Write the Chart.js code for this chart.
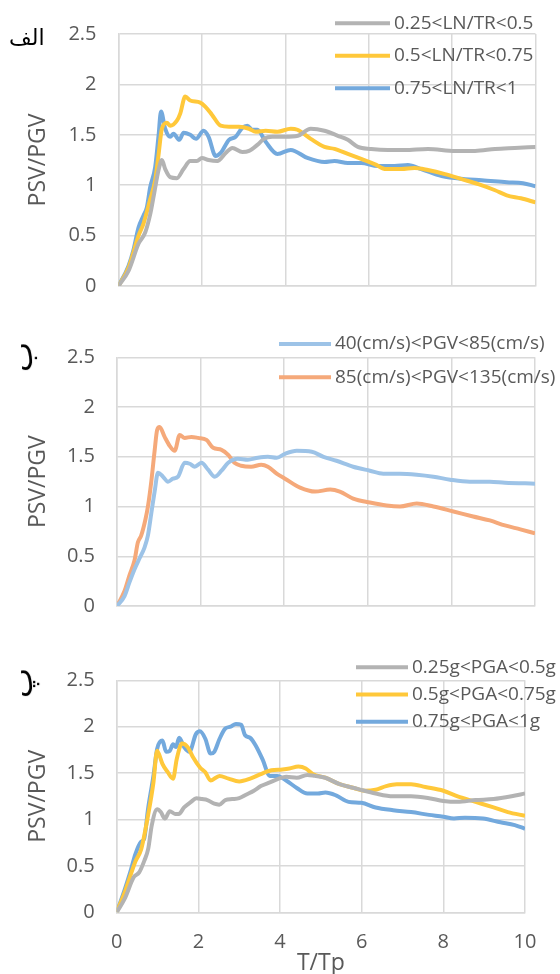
<!DOCTYPE html>
<html>
<head>
<meta charset="utf-8">
<script src="https://cdn.jsdelivr.net/npm/chart.js@4.4.0/dist/chart.umd.min.js"></script>
<style>
  html, body { margin: 0; padding: 0; background: #fff; overflow: hidden; }
  #wrap { position: relative; width: 560px; height: 974px; }
  .panel { position: absolute; left: 0; width: 560px; }
  .tag { position: absolute; font-family: "DejaVu Sans", sans-serif; color: #000; white-space: nowrap; line-height: 30px; }
</style>
</head>
<body>
<div id="wrap">
  <div class="panel" style="top:0;height:320px"><canvas id="c1" width="560" height="320"></canvas></div>
  <div class="panel" style="top:320px;height:320px"><canvas id="c2" width="560" height="320"></canvas></div>
  <div class="panel" style="top:640px;height:350px"><canvas id="c3" width="560" height="350"></canvas></div>
  <div class="tag" dir="rtl" style="left:9px;top:23px;font-size:22px">الف</div>
  <div class="tag" dir="rtl" style="left:6px;top:342px;font-size:32px;transform:rotate(-90deg)">ب</div>
  <div class="tag" dir="rtl" style="left:6px;top:668px;font-size:32px;transform:rotate(-90deg)">پ</div>
</div>
<script>
// axis ticks
const xTicks = [0, 2, 4, 6, 8, 10];
const yTicks = [0, 0.5, 1, 1.5, 2, 2.5];

// panel الف : LN/TR groups
const lnLabels = ['0.25<LN/TR<0.5', '0.5<LN/TR<0.75', '0.75<LN/TR<1'];
const lnT1 = [0, 0.24, 0.48, 0.64, 0.76, 0.86, 0.96, 1.04, 1.12, 1.24, 1.4, 1.56, 1.72, 1.88, 2.0, 2.16, 2.37, 2.57, 2.73, 2.97, 3.13, 3.33, 3.49, 3.69, 4.0, 4.3, 4.61, 4.94, 5.26, 5.5, 5.74, 6.06, 6.46, 6.86, 7.42, 8.07, 8.55, 9.03, 9.5, 10];
const lnV1 = [0, 0.15, 0.42, 0.53, 0.71, 0.93, 1.15, 1.25, 1.16, 1.08, 1.07, 1.16, 1.24, 1.24, 1.27, 1.25, 1.24, 1.32, 1.37, 1.33, 1.34, 1.40, 1.46, 1.48, 1.48, 1.49, 1.56, 1.54, 1.49, 1.45, 1.38, 1.36, 1.35, 1.35, 1.36, 1.34, 1.34, 1.36, 1.37, 1.38];
const lnT2 = [0, 0.24, 0.48, 0.6, 0.76, 0.88, 0.96, 1.04, 1.16, 1.24, 1.4, 1.48, 1.6, 1.72, 1.96, 2.08, 2.24, 2.45, 2.65, 2.89, 3.13, 3.29, 3.53, 3.81, 4.13, 4.29, 4.61, 4.94, 5.18, 5.5, 5.82, 6.14, 6.42, 6.78, 7.1, 7.42, 7.83, 8.23, 8.63, 9.03, 9.31, 9.65, 10];
const lnV2 = [0, 0.18, 0.5, 0.62, 0.86, 1.05, 1.3, 1.56, 1.62, 1.59, 1.64, 1.71, 1.88, 1.84, 1.82, 1.78, 1.70, 1.59, 1.58, 1.58, 1.56, 1.53, 1.54, 1.53, 1.56, 1.55, 1.46, 1.38, 1.36, 1.31, 1.26, 1.21, 1.16, 1.16, 1.17, 1.15, 1.11, 1.06, 1.01, 0.95, 0.90, 0.87, 0.83];
const lnT3 = [0, 0.24, 0.36, 0.48, 0.6, 0.68, 0.76, 0.88, 0.96, 1.02, 1.12, 1.24, 1.32, 1.46, 1.56, 1.72, 1.86, 2.04, 2.16, 2.33, 2.45, 2.65, 2.81, 2.97, 3.09, 3.21, 3.33, 3.53, 3.81, 4.13, 4.53, 4.94, 5.18, 5.5, 5.82, 6.22, 6.62, 6.94, 7.26, 7.75, 8.31, 8.71, 9.31, 9.7, 10];
const lnV3 = [0, 0.20, 0.36, 0.58, 0.70, 0.78, 0.98, 1.18, 1.49, 1.73, 1.56, 1.48, 1.51, 1.45, 1.52, 1.50, 1.46, 1.54, 1.48, 1.29, 1.32, 1.45, 1.48, 1.57, 1.59, 1.55, 1.55, 1.43, 1.31, 1.35, 1.27, 1.23, 1.24, 1.22, 1.22, 1.19, 1.19, 1.20, 1.16, 1.09, 1.06, 1.05, 1.03, 1.02, 0.99];

// panel ب : PGV groups
const pgvLabels = ['40(cm/s)<PGV<85(cm/s)', '85(cm/s)<PGV<135(cm/s)'];
const pgvT1 = [0, 0.18, 0.3, 0.42, 0.54, 0.66, 0.74, 0.82, 0.9, 0.98, 1.1, 1.22, 1.34, 1.46, 1.62, 1.74, 1.86, 2.02, 2.18, 2.34, 2.5, 2.66, 2.89, 3.13, 3.37, 3.61, 3.82, 4.02, 4.3, 4.66, 4.94, 5.25, 5.65, 6.05, 6.37, 6.77, 7.17, 7.57, 7.97, 8.44, 8.92, 9.28, 10];
const pgvV1 = [0, 0.10, 0.24, 0.37, 0.48, 0.59, 0.71, 0.93, 1.15, 1.34, 1.30, 1.25, 1.28, 1.30, 1.44, 1.43, 1.40, 1.44, 1.37, 1.30, 1.36, 1.44, 1.48, 1.47, 1.49, 1.50, 1.49, 1.53, 1.56, 1.55, 1.50, 1.46, 1.40, 1.36, 1.33, 1.33, 1.32, 1.30, 1.27, 1.25, 1.25, 1.24, 1.23];
const pgvT2 = [0, 0.18, 0.3, 0.42, 0.5, 0.58, 0.68, 0.74, 0.82, 0.9, 0.96, 1.02, 1.14, 1.26, 1.38, 1.5, 1.62, 1.78, 1.94, 2.14, 2.3, 2.5, 2.66, 2.81, 2.97, 3.21, 3.45, 3.61, 3.82, 4.02, 4.38, 4.74, 5.1, 5.33, 5.65, 6.05, 6.45, 6.77, 7.17, 7.57, 8.05, 8.52, 8.92, 9.28, 9.65, 10];
const pgvV2 = [0, 0.15, 0.31, 0.46, 0.64, 0.71, 0.87, 1.0, 1.25, 1.56, 1.77, 1.80, 1.70, 1.61, 1.56, 1.72, 1.69, 1.70, 1.69, 1.67, 1.59, 1.57, 1.52, 1.44, 1.41, 1.40, 1.42, 1.40, 1.33, 1.28, 1.19, 1.15, 1.17, 1.15, 1.08, 1.04, 1.01, 1.00, 1.03, 1.00, 0.95, 0.90, 0.86, 0.81, 0.77, 0.73];

// panel پ : PGA groups
const pgaLabels = ['0.25g<PGA<0.5g', '0.5g<PGA<0.75g', '0.75g<PGA<1g'];
const pgaT1 = [0, 0.2, 0.42, 0.55, 0.68, 0.77, 0.86, 0.99, 1.08, 1.18, 1.3, 1.43, 1.52, 1.65, 1.82, 1.95, 2.09, 2.22, 2.39, 2.51, 2.66, 2.83, 3.0, 3.18, 3.36, 3.53, 3.75, 3.97, 4.15, 4.41, 4.67, 4.85, 5.11, 5.46, 5.9, 6.34, 6.77, 7.21, 7.65, 8.0, 8.35, 8.79, 9.23, 9.67, 10];
const pgaV1 = [0, 0.15, 0.38, 0.43, 0.56, 0.68, 0.94, 1.11, 1.08, 1.01, 1.09, 1.06, 1.06, 1.13, 1.19, 1.23, 1.22, 1.21, 1.17, 1.16, 1.21, 1.22, 1.23, 1.27, 1.31, 1.36, 1.40, 1.44, 1.46, 1.45, 1.48, 1.47, 1.45, 1.38, 1.33, 1.28, 1.25, 1.25, 1.23, 1.20, 1.19, 1.21, 1.22, 1.25, 1.28];
const pgaT2 = [0, 0.2, 0.46, 0.6, 0.77, 0.9, 0.99, 1.03, 1.12, 1.25, 1.38, 1.47, 1.6, 1.74, 1.87, 2.04, 2.17, 2.3, 2.52, 2.74, 3.0, 3.27, 3.53, 3.79, 4.06, 4.23, 4.45, 4.63, 4.8, 5.11, 5.46, 5.81, 6.07, 6.34, 6.6, 6.86, 7.21, 7.56, 8.0, 8.35, 8.79, 9.23, 9.58, 10];
const pgaV2 = [0, 0.22, 0.55, 0.68, 1.05, 1.4, 1.74, 1.71, 1.60, 1.51, 1.44, 1.65, 1.82, 1.78, 1.67, 1.56, 1.51, 1.42, 1.47, 1.44, 1.41, 1.44, 1.49, 1.53, 1.54, 1.55, 1.57, 1.55, 1.49, 1.45, 1.38, 1.34, 1.31, 1.32, 1.36, 1.38, 1.38, 1.35, 1.31, 1.25, 1.19, 1.13, 1.08, 1.04];
const pgaT3 = [0, 0.2, 0.33, 0.46, 0.6, 0.67, 0.77, 0.9, 0.99, 1.12, 1.21, 1.3, 1.38, 1.45, 1.53, 1.65, 1.78, 1.94, 2.04, 2.17, 2.3, 2.39, 2.52, 2.66, 2.79, 2.92, 3.05, 3.14, 3.27, 3.4, 3.58, 3.75, 3.93, 4.15, 4.41, 4.67, 4.93, 5.11, 5.37, 5.68, 5.99, 6.34, 6.77, 7.21, 7.65, 8.0, 8.26, 8.53, 8.97, 9.4, 9.75, 10];
const pgaV3 = [0, 0.25, 0.43, 0.63, 0.76, 0.79, 1.12, 1.47, 1.76, 1.85, 1.73, 1.74, 1.81, 1.78, 1.88, 1.78, 1.73, 1.92, 1.95, 1.87, 1.71, 1.73, 1.87, 1.98, 2.00, 2.03, 2.02, 1.91, 1.88, 1.80, 1.64, 1.47, 1.47, 1.42, 1.34, 1.28, 1.28, 1.29, 1.26, 1.19, 1.18, 1.13, 1.10, 1.08, 1.05, 1.03, 1.01, 1.02, 1.01, 0.97, 0.94, 0.90];

const GRAY = '#B3B3B3', YELLOW = '#FFC83A', BLUE = '#73A9DD';
const LIGHT_BLUE = '#9DC3E7', ORANGE = '#F5A97A';
const TEXT = '#595959', GRID = '#D9D9D9';
const FONT = 'Open Sans';

function pts(t, v) {
  return t.map((x, i) => ({ x: x, y: v[i] }));
}

// legend drawn inside the plot, like the Excel original
const insideLegend = {
  id: 'insideLegend',
  afterDraw(chart, args, opts) {
    const ctx = chart.ctx;
    ctx.save();
    ctx.font = opts.size + 'px "' + FONT + '"';
    ctx.textBaseline = 'middle';
    chart.data.datasets.forEach((ds, i) => {
      const y = opts.y + i * opts.gap;
      ctx.strokeStyle = ds.borderColor;
      ctx.lineWidth = 4;
      ctx.beginPath();
      ctx.moveTo(opts.x, y);
      ctx.lineTo(opts.x + opts.len, y);
      ctx.stroke();
      ctx.fillStyle = TEXT;
      ctx.fillText(ds.label, opts.x + opts.len + 4, y);
    });
    ctx.restore();
  }
};

function makeChart(id, sets, cfg) {
  const datasets = sets.map(s => ({
    label: s.label,
    data: pts(s.t, s.v),
    borderColor: s.color,
    borderWidth: 4,
    pointRadius: 0,
    cubicInterpolationMode: 'monotone',
    fill: false
  }));
  new Chart(document.getElementById(id), {
    type: 'line',
    data: { datasets: datasets },
    plugins: [insideLegend],
    options: {
      responsive: false,
      animation: false,
      layout: { padding: { top: cfg.top, right: cfg.right, left: 0, bottom: 0 } },
      plugins: {
        legend: { display: false },
        tooltip: { enabled: false },
        insideLegend: cfg.legend
      },
      scales: {
        x: {
          type: 'linear',
          min: 0,
          max: 10,
          afterBuildTicks: s => { s.ticks = xTicks.map(v => ({ value: v })); },
          afterFit: s => { s.height = cfg.xHeight; },
          grid: { color: GRID, lineWidth: 1.5, drawTicks: false },
          border: { color: GRID, width: 1.5 },
          ticks: { display: cfg.xLabels, color: TEXT, padding: 18, font: { family: FONT, size: 20 }, callback: v => String(v) },
          title: {
            display: cfg.xLabels,
            text: 'T/Tp',
            color: TEXT,
            font: { family: FONT, size: 23 },
            padding: { top: 0, bottom: 13 }
          }
        },
        y: {
          min: 0,
          max: 2.5,
          afterBuildTicks: s => { s.ticks = yTicks.map(v => ({ value: v })); },
          afterFit: s => { s.width = cfg.left; },
          grid: { color: GRID, lineWidth: 1.5, drawTicks: false },
          border: { color: GRID, width: 1.5 },
          ticks: { color: TEXT, padding: 22, font: { family: FONT, size: 20 }, callback: v => String(v) },
          title: {
            display: true,
            text: 'PSV/PGV',
            color: TEXT,
            font: { family: FONT, size: 23 },
            padding: { top: 25, bottom: 0 }
          }
        }
      }
    }
  });
}

makeChart('c1', [
  { label: lnLabels[0], t: lnT1, v: lnV1, color: GRAY },
  { label: lnLabels[1], t: lnT2, v: lnV2, color: YELLOW },
  { label: lnLabels[2], t: lnT3, v: lnV3, color: BLUE }
], { top: 33.5, right: 24.5, left: 118.5, xHeight: 21.7, xLabels: false,
     legend: { x: 335, y: 23.3, gap: 32.5, len: 55, size: 19 } });

makeChart('c2', [
  { label: pgvLabels[0], t: pgvT1, v: pgvV1, color: LIGHT_BLUE },
  { label: pgvLabels[1], t: pgvT2, v: pgvV2, color: ORANGE }
], { top: 37.3, right: 25, left: 117, xHeight: 17.7, xLabels: false,
     legend: { x: 279, y: 24, gap: 33.3, len: 52, size: 19 } });

makeChart('c3', [
  { label: pgaLabels[0], t: pgaT1, v: pgaV1, color: GRAY },
  { label: pgaLabels[1], t: pgaT2, v: pgaV2, color: YELLOW },
  { label: pgaLabels[2], t: pgaT3, v: pgaV3, color: BLUE }
], { top: 40.3, right: 35, left: 116.7, xHeight: 77.7, xLabels: true,
     legend: { x: 356, y: 27.3, gap: 27.2, len: 52, size: 19 } });
</script>
</body>
</html>
